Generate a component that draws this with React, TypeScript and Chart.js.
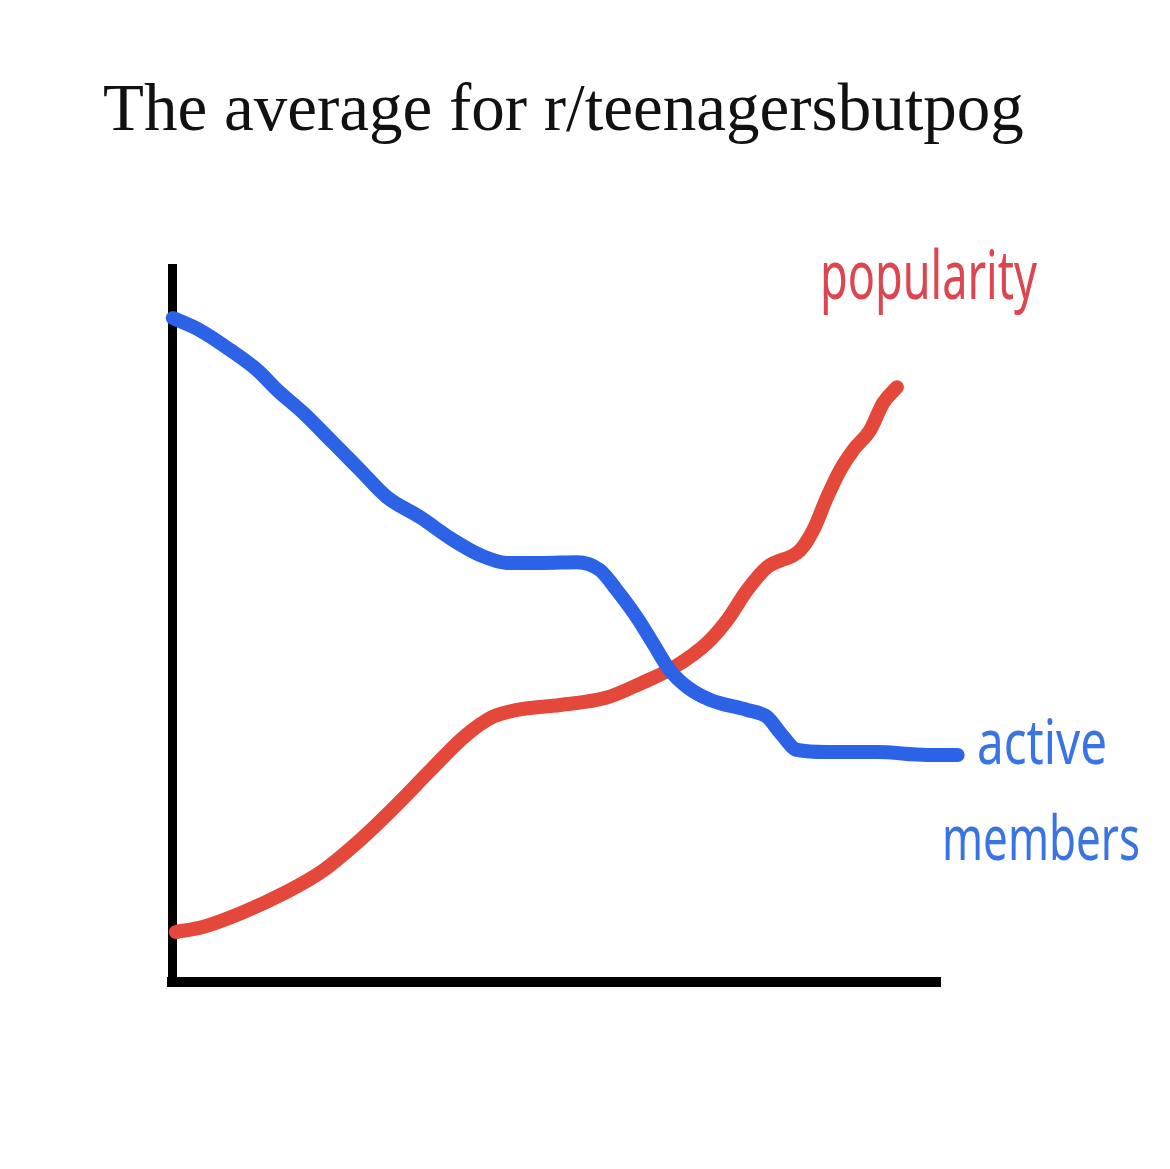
import React, { useEffect, useRef } from "react";
import { Chart, registerables } from "chart.js";

Chart.register(...registerables);

const TITLE = "The average for r/teenagersbutpog";
const SERIES_NAMES = ["active members", "popularity"];
const LABEL_LINES_ACTIVE = ["active", "members"];
const LABEL_POPULARITY = "popularity";

// x position along the time axis (0..100), value (0..100)
const activeX = [0.1, 3.6, 7.6, 11.1, 13.7, 17.1, 21.0, 24.5, 28.0, 32.3, 36.6, 40.1, 43.6, 48.3, 52.7, 55.7, 57.9, 60.5, 62.6, 64.8, 67.1, 70.1, 74.9, 77.5, 79.2, 81.4, 85.3, 91.8, 98.3, 102.3];
const activeY = [93.0, 91.3, 88.5, 85.7, 82.9, 79.7, 75.5, 71.7, 67.9, 65.1, 61.9, 59.8, 58.7, 58.7, 58.8, 57.7, 54.9, 51.1, 47.5, 43.7, 41.3, 39.5, 38.1, 37.1, 34.9, 32.5, 32.2, 32.2, 31.8, 31.8];

const popularityX = [0.5, 4.0, 9.1, 14.7, 19.4, 24.5, 28.6, 33.7, 38.0, 41.7, 44.9, 50.5, 56.5, 61.2, 65.4, 69.7, 72.3, 74.9, 77.5, 81.8, 83.5, 85.3, 87.0, 88.7, 90.9, 92.6, 94.4];
const popularityY = [7.0, 7.7, 9.7, 12.5, 15.4, 19.9, 24.1, 29.7, 34.3, 37.1, 38.1, 38.8, 39.8, 41.9, 44.1, 47.5, 50.7, 54.9, 58.1, 60.5, 63.3, 67.9, 71.7, 74.5, 77.3, 81.1, 83.3];

const BLUE = "#2c63e6";
const RED = "#e4483b";

const textPlugin = {
  id: "sketchText",
  afterDraw(chart: any) {
    const ctx = chart.ctx;
    ctx.save();
    ctx.textBaseline = "alphabetic";
    ctx.textAlign = "left";
    ctx.fillStyle = "#111111";
    ctx.font = '67px "Liberation Serif", "DejaVu Serif", serif';
    ctx.fillText(TITLE, 103, 130, 927);

    ctx.fillStyle = "#dc4650";
    ctx.font = '68px "Liberation Sans Narrow", "Noto Sans", sans-serif';
    ctx.fillText(LABEL_POPULARITY, 820, 299, 217);

    ctx.fillStyle = "#3a73e2";
    ctx.font = '62px "Liberation Sans Narrow", "Noto Sans", sans-serif';
    ctx.fillText(LABEL_LINES_ACTIVE[0], 977, 764, 130);
    ctx.fillText(LABEL_LINES_ACTIVE[1], 942, 860, 198);
    ctx.restore();
  },
};

const bgPlugin = {
  id: "bg",
  beforeDraw(chart: any) {
    const ctx = chart.ctx;
    ctx.save();
    ctx.fillStyle = "#ffffff";
    ctx.fillRect(0, 0, chart.width, chart.height);
    ctx.restore();
  },
};

export default function App() {
  const ref = useRef<HTMLCanvasElement>(null);
  useEffect(() => {
    if (!ref.current) return;
    const chart = new Chart(ref.current, {
      type: "line",
      data: {
        datasets: [
          {
            label: SERIES_NAMES[0],
            data: activeX.map((x, i) => ({ x, y: activeY[i] })),
            borderColor: BLUE,
            borderWidth: 14,
            pointRadius: 0,
            cubicInterpolationMode: "monotone",
            borderCapStyle: "round",
            borderJoinStyle: "round",
            clip: false as any,
          },
          {
            label: SERIES_NAMES[1],
            data: popularityX.map((x, i) => ({ x, y: popularityY[i] })),
            borderColor: RED,
            borderWidth: 14,
            pointRadius: 0,
            cubicInterpolationMode: "monotone",
            borderCapStyle: "round",
            borderJoinStyle: "round",
            clip: false as any,
          },
        ],
      },
      options: {
        responsive: false,
        animation: false,
        devicePixelRatio: 1,
        layout: { padding: { left: 172, right: 230, top: 268, bottom: 187 } },
        plugins: {
          legend: { display: false },
          title: { display: false },
          tooltip: { enabled: false },
        },
        scales: {
          x: {
            type: "linear",
            min: 0,
            max: 100,
            ticks: { display: false },
            grid: { display: false, drawTicks: false },
            border: { display: true, color: "#000000", width: 10 },
          },
          y: {
            type: "linear",
            min: 0,
            max: 100,
            ticks: { display: false },
            grid: { display: false, drawTicks: false },
            border: { display: true, color: "#000000", width: 9 },
          },
        },
      },
      plugins: [bgPlugin, textPlugin],
    });
    return () => chart.destroy();
  }, []);
  return (
    <div style={{ position: "absolute", left: 0, top: 0, width: 1170, height: 1169 }}>
      <canvas ref={ref} width={1170} height={1169} style={{ display: "block" }} />
    </div>
  );
}
